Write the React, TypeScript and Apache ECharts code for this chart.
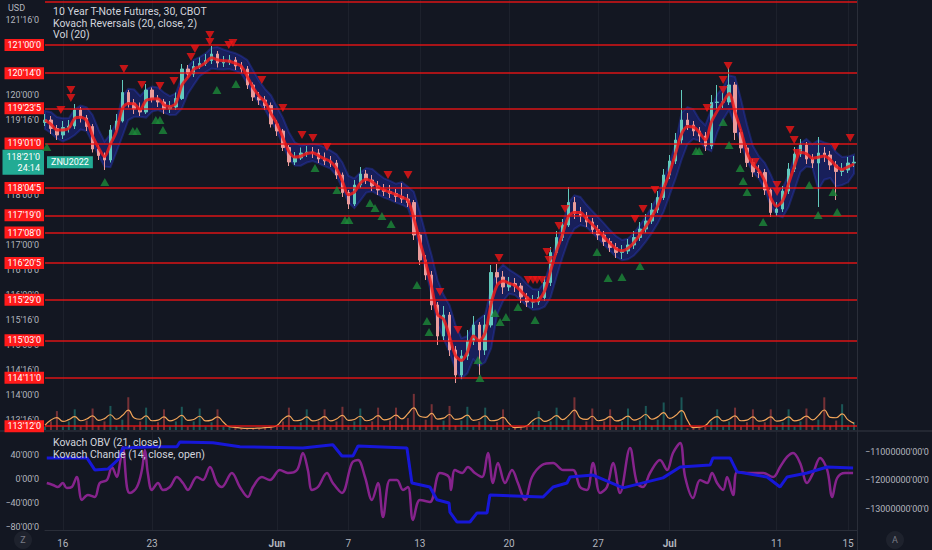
import React, { useEffect, useRef } from 'react';
import * as echarts from 'echarts';

// ---- price bars (3 bars per trading day, first bar on day index -1 = May 13) ----
const FIRST_DAY = -1;
const BARS_PER_DAY = 3;
const firstOpen = 119.45;
const closes = [
  119.50, 119.33, 119.20, 119.35, 119.38, 119.70, 119.54, 119.37, 118.92, 118.79,
  118.70, 119.30, 119.48, 120.05, 119.84, 119.72, 119.66, 120.10, 119.92, 119.86,
  119.72, 119.76, 119.93, 120.52, 120.42, 120.57, 120.63, 120.69, 120.82, 120.64,
  120.66, 120.70, 120.58, 120.52, 120.20, 119.96, 119.90, 119.79, 119.42, 119.28,
  118.95, 118.66, 118.74, 118.84, 118.86, 118.84, 118.72, 118.68, 118.64, 118.40,
  118.05, 117.82, 118.20, 118.42, 118.30, 118.18, 118.10, 118.07, 118.03, 117.97,
  117.92, 117.85, 117.20, 116.70, 116.40, 115.80, 115.18, 115.60, 114.90, 114.40,
  114.78, 115.08, 115.40, 114.90, 115.40, 116.45, 116.36, 116.16, 116.23, 116.18,
  115.96, 115.86, 115.86, 115.95, 116.25, 116.85, 117.15, 117.40, 117.85, 117.63,
  117.58, 117.46, 117.31, 117.20, 117.07, 116.95, 116.85, 116.88, 117.00, 117.15,
  117.32, 117.48, 117.70, 117.95, 118.40, 118.68, 119.10, 119.50, 119.40, 119.28,
  119.18, 118.98, 119.85, 119.86, 119.86, 120.20, 119.25, 118.94, 118.65, 118.46,
  118.45, 118.10, 117.65, 117.72, 118.08, 118.52, 118.82, 119.00, 118.72, 118.64,
  118.84, 118.80, 118.60, 118.47, 118.50, 118.64, 118.65625,
];
const highs = [
  119.62, 119.58, 119.40, 119.48, 119.50, 119.82, 119.76, 119.60, 119.42, 119.00,
  118.85, 119.40, 119.62, 120.30, 120.10, 119.92, 119.85, 120.22, 120.15, 120.00,
  119.92, 119.88, 120.05, 120.62, 120.60, 120.68, 120.75, 120.82, 120.98, 120.88,
  120.78, 120.80, 120.76, 120.66, 120.58, 120.25, 120.06, 119.98, 119.85, 119.50,
  119.32, 119.00, 118.86, 118.95, 118.98, 118.96, 118.92, 118.85, 118.78, 118.70,
  118.45, 118.10, 118.30, 118.56, 118.50, 118.40, 118.28, 118.22, 118.20, 118.12,
  118.24, 118.02, 117.90, 117.26, 116.80, 116.48, 115.86, 115.78, 115.66, 114.98,
  114.90, 115.30, 115.58, 115.46, 115.60, 116.60, 116.62, 116.48, 116.36, 116.34,
  116.24, 116.04, 116.00, 116.08, 116.36, 116.96, 117.28, 117.52, 118.16, 117.96,
  117.76, 117.66, 117.54, 117.40, 117.28, 117.14, 117.04, 117.00, 117.12, 117.28,
  117.46, 117.62, 117.84, 118.08, 118.52, 118.80, 119.24, 120.10, 119.64, 119.48,
  119.36, 119.26, 120.00, 120.20, 120.05, 120.55, 120.26, 119.32, 119.00, 118.72,
  118.60, 118.52, 118.14, 117.86, 118.18, 118.64, 118.96, 119.12, 119.06, 118.82,
  119.16, 118.96, 118.88, 118.68, 118.64, 118.76, 118.78,
];
const lows = [
  119.38, 119.22, 119.10, 119.12, 119.25, 119.32, 119.45, 119.28, 118.85, 118.70,
  118.50, 118.65, 119.25, 119.45, 119.75, 119.62, 119.58, 119.62, 119.85, 119.76,
  119.62, 119.64, 119.70, 119.90, 120.34, 120.36, 120.52, 120.58, 120.62, 120.55,
  120.56, 120.60, 120.50, 120.44, 120.12, 119.88, 119.80, 119.70, 119.35, 119.18,
  118.88, 118.58, 118.60, 118.70, 118.76, 118.74, 118.64, 118.60, 118.56, 118.32,
  117.96, 117.72, 117.78, 118.14, 118.22, 118.08, 118.00, 117.98, 117.94, 117.86,
  117.84, 117.76, 117.10, 116.60, 116.30, 115.70, 115.00, 115.10, 114.78, 114.24,
  114.32, 114.70, 115.00, 114.40, 114.80, 115.35, 116.20, 116.02, 116.08, 116.06,
  115.84, 115.76, 115.74, 115.80, 115.88, 116.18, 116.80, 117.08, 117.36, 117.52,
  117.46, 117.36, 117.22, 117.10, 116.98, 116.86, 116.74, 116.72, 116.82, 116.92,
  117.08, 117.24, 117.42, 117.64, 117.90, 118.32, 118.62, 119.02, 119.30, 119.18,
  119.06, 118.88, 118.92, 119.72, 119.74, 119.80, 119.10, 118.84, 118.56, 118.36,
  118.34, 118.00, 117.56, 117.58, 117.66, 118.02, 118.46, 118.76, 118.62, 118.54,
  117.76, 118.66, 118.50, 117.90, 118.38, 118.44, 118.56,
];
const volumes = [
  4, 10, 22, 4, 10, 24, 4, 11, 25, 5, 10, 28, 5, 12, 38, 4, 10, 26, 4, 9, 24,
  4, 10, 27, 4, 10, 25, 4, 9, 24, 4, 4, 3, 2, 2, 2, 2, 3, 3, 4, 10, 26,
  4, 9, 24, 4, 10, 24, 4, 10, 27, 4, 10, 25, 4, 10, 26, 5, 11, 26, 6, 14, 42,
  5, 12, 30, 5, 11, 28, 5, 11, 27, 4, 10, 26, 4, 9, 24, 2, 3, 3, 4, 9, 22,
  4, 10, 26, 5, 12, 38, 4, 10, 25, 4, 10, 24, 4, 10, 25, 5, 11, 28, 5, 12, 32,
  5, 12, 38, 2, 3, 3, 4, 10, 24, 4, 10, 26, 4, 9, 24, 4, 9, 24, 4, 9, 24,
  4, 10, 25, 5, 12, 38, 5, 11, 30, 4, 9,
];

// ---- horizontal levels ----
const levels = [121.0, 120.4375, 119.734375, 119.03125, 118.140625, 117.59375, 117.25,
  116.640625, 115.90625, 115.09375, 114.34375, 113.375];
const topLevel = 121.875;
const contract = 'ZNU2022';
const countdown = '24:14';

// ---- reversal markers [day, price] ----
const redMarks = [
  [-0.11, 119.70], [0.45, 120.10], [0.45, 119.94], [3.42, 120.52], [4.43, 120.20], [5.44, 120.18],
  [6.22, 120.28], [7.18, 120.76], [7.40, 120.92], [8.24, 121.20], [8.24, 121.06], [9.30, 121.00],
  [9.53, 121.04], [11.15, 120.30], [12.33, 119.74], [13.40, 119.20], [14.01, 119.14], [14.80, 118.96],
  [18.22, 118.40], [19.34, 118.40], [21.13, 116.06], [22.14, 115.30], [24.44, 116.74], [26.07, 116.30],
  [26.35, 116.30], [26.57, 116.30], [26.85, 116.30], [27.13, 116.86], [27.24, 116.70], [27.80, 117.38],
  [28.14, 117.72], [32.06, 117.52], [32.51, 117.72], [33.18, 118.10], [36.10, 119.74], [37.00, 120.30],
  [37.00, 120.10], [37.28, 120.58], [38.79, 118.66], [40.02, 118.20], [40.02, 118.06], [40.75, 119.30],
  [40.98, 119.10], [41.14, 118.84], [43.27, 118.96], [44.12, 119.14],
];
const greenMarks = [
  [-0.90, 118.96], [2.35, 118.26], [3.92, 119.28], [4.15, 119.28], [5.21, 119.50], [5.44, 119.50],
  [5.61, 119.30], [8.63, 120.10], [9.70, 120.22], [14.13, 118.54], [15.36, 118.10], [15.81, 117.50],
  [16.03, 117.50], [17.21, 117.84], [17.49, 117.74], [17.88, 117.58], [18.39, 117.42], [19.84, 116.20],
  [20.40, 115.48], [20.52, 115.26], [23.26, 114.70], [23.37, 114.34], [24.22, 115.64], [24.50, 115.46],
  [24.83, 115.56], [25.50, 115.76], [26.46, 115.50], [29.93, 116.86], [30.55, 116.34], [31.33, 116.36],
  [32.34, 116.58], [35.48, 118.88], [35.65, 118.88], [37.00, 119.46], [37.33, 119.00], [37.95, 118.54],
  [38.12, 118.28], [38.34, 118.06], [39.24, 117.46], [41.82, 118.20], [42.32, 117.60], [43.16, 118.06],
  [43.39, 117.66],
];

// ---- lower pane [day, value] ----
const chande = [
  [-0.90, -6.7], [-0.56, -10], [-0.28, -13.3], [0, -6.7], [0.22, -15], [0.50, -13.3], [0.78, 3.3],
  [1.07, -35], [1.40, -26.7], [1.79, -30], [2.07, -6.7], [2.47, -1.7], [2.75, 20], [3.03, 3.3],
  [3.20, 26.7], [3.36, 53.3], [3.59, -13.3], [3.76, -23.3], [4.15, -13.3], [4.43, 15], [4.60, 48.3],
  [4.76, 10], [4.99, -18.3], [5.33, -6.7], [5.61, -18.3], [6.00, -13.3], [6.39, 3.3], [6.73, -6.7],
  [7.01, -18.3], [7.51, 3.3], [7.85, -1.7], [8.24, 20], [8.63, -6.7], [8.91, -13.3], [9.47, 10],
  [9.92, -13.3], [10.37, -30], [10.65, -13.3], [11.15, 3.3], [11.60, -1.7], [12.16, 15], [12.61, 10],
  [13.12, 15], [13.45, 43.3], [13.73, 15], [13.96, -18.3], [14.29, -13.3], [14.80, 10], [15.13, -6.7],
  [15.64, -23.3], [16.20, 26.7], [16.54, 31.7], [16.93, 3.3], [17.32, -35], [17.66, -6.7], [17.94, -63.3],
  [18.33, -1.7], [18.72, -1.7], [19.06, -18.3], [19.34, -13.3], [19.62, -68.3], [20.01, -35], [20.57, -38.3],
  [21.13, 10], [21.64, 3.3], [21.75, -18.3], [21.97, 15], [22.37, 10], [22.70, 20], [23.09, 10],
  [23.49, 3.3], [23.82, 43.3], [24.10, -6.7], [24.38, 26.7], [24.78, -6.7], [25.17, 15], [25.50, -6.7],
  [25.90, -35], [26.29, 3.3], [26.85, 23.3], [27.47, 26.7], [28.03, 15], [28.59, 15], [28.98, -13.3],
  [29.37, -18.3], [29.71, 26.7], [30.10, -23.3], [30.49, -13.3], [30.83, 26.7], [31.22, -23.3], [31.78, 51.7],
  [32.17, -6.7], [32.51, -13.3], [32.90, 10], [33.46, 31.7], [33.86, 15], [34.19, 43.3], [34.59, 60],
  [34.87, 3.3], [35.31, -31.7], [35.71, -1.7], [36.10, -6.7], [36.38, 10], [36.66, -6.7], [37.00, -18.3],
  [37.22, 3.3], [37.56, -26.7], [37.78, 11.7], [38.34, 10], [39.24, 10], [39.80, 3.3], [40.19, 20],
  [40.58, 36.7], [40.92, 43.3], [41.31, 26.7], [41.70, -6.7], [42.04, 10], [42.43, 35], [42.83, 15],
  [43.11, -30], [43.39, 1.7], [43.83, 10], [44.28, 10],
];
const obv = [
  [-0.90, -11210000], [1.35, -11210000], [1.79, -11630000], [2.52, -11600000], [3.08, -11280000],
  [3.36, -10860000], [5.04, -10820000], [6.39, -10820000], [6.56, -10650000], [8.41, -10680000],
  [9.92, -10820000], [13.45, -10860000], [15.13, -10750000], [15.64, -11140000], [16.26, -11140000],
  [16.54, -10790000], [19.28, -10860000], [19.56, -12090000], [20.57, -12230000], [20.96, -12680000],
  [21.64, -12790000], [21.69, -13110000], [22.09, -13460000], [22.81, -13460000], [23.21, -13140000],
  [23.77, -13140000], [23.93, -12510000], [26.91, -12580000], [27.47, -12230000], [28.25, -12090000],
  [28.42, -11880000], [29.71, -11810000], [31.39, -12260000], [33.63, -11910000], [34.59, -11530000],
  [36.27, -11460000], [36.43, -11210000], [37.39, -11210000], [37.78, -11700000], [39.46, -11880000],
  [40.19, -12230000], [40.58, -11880000], [41.70, -11740000], [42.83, -11530000], [44.28, -11560000],
];

// ---- axis ticks ----
const dayTicks = [0, 5, 12, 16, 20, 25, 30, 34, 40, 44];
const dayLabels = ['16', '23', 'Jun', '7', '13', '20', '27', 'Jul', '11', '15'];
const priceTicks = [113.5, 114, 114.5, 115, 115.5, 116, 116.5, 117, 118, 119.5, 120, 121.5];
const chandeTicks = [-80, -40, 0, 40];
const obvTicks = [-13000000, -12000000, -11000000];

const titleLines = ['10 Year T-Note Futures, 30, CBOT', 'Kovach Reversals (20, close, 2)', 'Vol (20)'];
const lowerTitles = ['Kovach OBV (21, close)', 'Kovach Chande (14, close, open)'];

function fmt32(v: number): string {
  const neg = v < 0;
  const a = Math.abs(v);
  let w = Math.floor(a + 1e-9);
  const r = (a - w) * 32;
  let n = Math.floor(r + 1e-6);
  let f = Math.round((r - n) * 10);
  if (f >= 10) { f = 0; n += 1; }
  if (n >= 32) { n = 0; w += 1; }
  return (neg ? '\u2212' : '') + w + "'" + String(n).padStart(2, '0') + "'" + f;
}

const FONT = 'Roboto, "Noto Sans", sans-serif';
const AXIS_TXT = '#b2b5be';
const TEAL = '#22ab94';

export default function App() {
  const ref = useRef<HTMLDivElement>(null);
  useEffect(() => {
    if (!ref.current) return;
    const chart = echarts.init(ref.current, null, { renderer: 'svg' });

    const xs = closes.map((_, i) => FIRST_DAY + i / BARS_PER_DAY);
    const opens = closes.map((_, i) => (i === 0 ? firstOpen : closes[i - 1]));
    const wavg = (arr: number[], i: number) =>
      0.5 * arr[i] + 0.3 * arr[Math.max(0, i - 1)] + 0.2 * arr[Math.max(0, i - 2)];
    const ma = closes.map((_, i) => wavg(closes, i));
    const upper = highs.map((_, i) => wavg(highs, i) + 0.06);
    const lower = lows.map((_, i) => wavg(lows, i) - 0.06);
    const vma = volumes.map((v, i) =>
      0.25 * volumes[Math.max(0, i - 1)] + 0.5 * v + 0.25 * volumes[Math.min(volumes.length - 1, i + 1)]);
    const last = closes[closes.length - 1];

    const candleData = xs.map((x, i) => [x, opens[i], closes[i], lows[i], highs[i]]);
    const hidden = { color: 'rgba(0,0,0,0)', width: 0 };

    const option: any = {
      animation: false,
      backgroundColor: '#131722',
      textStyle: { fontFamily: FONT },
      grid: [
        { left: 45, right: 75, top: 0, height: 430 },
        { left: 45, right: 75, top: 432, height: 98 },
      ],
      xAxis: [
        {
          type: 'value', gridIndex: 0, min: -1, max: 44.5,
          axisLabel: { show: false }, axisLine: { show: false },
          axisTick: { show: false, customValues: dayTicks },
          splitLine: { show: true, lineStyle: { color: 'rgba(42,46,57,0.45)', width: 1 } },
        },
        {
          type: 'value', gridIndex: 1, min: -1, max: 44.5,
          axisLine: { show: true, onZero: false, lineStyle: { color: '#2a2e39' } },
          axisTick: { show: false, customValues: dayTicks },
          splitLine: { show: true, lineStyle: { color: 'rgba(42,46,57,0.45)', width: 1 } },
          axisLabel: {
            customValues: dayTicks, color: AXIS_TXT, fontSize: 10, margin: 8, fontFamily: FONT,
            formatter: (v: number) => {
              const t = dayLabels[dayTicks.indexOf(v)] ?? '';
              return t === 'Jun' || t === 'Jul' ? '{m|' + t + '}' : t;
            },
            rich: { m: { fontWeight: 'bold', color: AXIS_TXT, fontSize: 10, fontFamily: FONT } },
          },
        },
      ],
      yAxis: [
        {
          type: 'value', gridIndex: 0, position: 'left', min: 113.3, max: 121.9, scale: true,
          axisLine: { show: false }, axisTick: { show: false }, splitLine: { show: false },
          axisLabel: { customValues: priceTicks, formatter: fmt32, color: AXIS_TXT, fontSize: 9, margin: 6, fontFamily: FONT },
        },
        { type: 'value', gridIndex: 0, min: 0, max: 500, show: false },
        {
          type: 'value', gridIndex: 1, position: 'left', min: -85, max: 78.3,
          axisLine: { show: false }, axisTick: { show: false }, splitLine: { show: false },
          axisLabel: { customValues: chandeTicks, formatter: fmt32, color: AXIS_TXT, fontSize: 9, margin: 6, fontFamily: FONT },
        },
        {
          type: 'value', gridIndex: 1, position: 'right', min: -13740000, max: -10300000,
          axisLine: { show: false }, axisTick: { show: false }, splitLine: { show: false },
          axisLabel: { customValues: obvTicks, formatter: fmt32, color: AXIS_TXT, fontSize: 9, margin: 8, fontFamily: FONT },
        },
      ],
      series: [
        {
          type: 'bar', name: 'Vol', xAxisIndex: 0, yAxisIndex: 1, barWidth: 2, silent: true, z: 1,
          data: xs.map((x, i) => ({
            value: [x, volumes[i]],
            itemStyle: { color: closes[i] >= opens[i] ? 'rgba(38,166,154,0.45)' : 'rgba(239,83,80,0.45)' },
          })),
        },
        {
          type: 'line', name: 'VolMA', xAxisIndex: 0, yAxisIndex: 1, symbol: 'none', smooth: 0.5, silent: true, z: 2,
          lineStyle: { color: '#f2a55a', width: 1.2 },
          data: xs.map((x, i) => [x, vma[i]]),
        },
        {
          type: 'custom', name: 'band', xAxisIndex: 0, yAxisIndex: 0, silent: true, z: 2,
          data: [[xs[0], lower[0]]],
          renderItem: (_params: any, api: any) => {
            const top = xs.map((x, i) => api.coord([x, upper[i]]));
            const bot = xs.map((x, i) => api.coord([x, lower[i]])).reverse();
            return {
              type: 'polygon',
              shape: { points: top.concat(bot) },
              style: { fill: 'rgba(30,44,170,0.42)', stroke: 'rgba(45,62,210,0.35)', lineWidth: 2 },
            };
          },
        },
        {
          type: 'candlestick', name: 'ZN', xAxisIndex: 0, yAxisIndex: 0, barWidth: 3, z: 3,
          encode: { x: 0, y: [1, 2, 3, 4] },
          itemStyle: { color: '#62cabd', color0: '#ea9b9b', borderColor: '#62cabd', borderColor0: '#ea9b9b', borderWidth: 1 },
          data: candleData,
          markLine: {
            symbol: ['none', 'none'], silent: true, precision: 6, animation: false,
            lineStyle: { color: 'rgba(240,20,20,0.9)', width: 1.5, type: 'solid' },
            label: {
              show: true, position: 'start', formatter: '{b}', color: '#ffffff', backgroundColor: '#ff1a1a',
              padding: [2, 3, 1, 3], fontSize: 9, distance: 1, fontFamily: FONT,
            },
            data: [
              ...levels.map((v) => ({ yAxis: v, name: fmt32(v) })),
              { yAxis: topLevel, name: fmt32(topLevel), label: { show: false } },
              {
                yAxis: last, name: fmt32(last) + '\n' + countdown, lineStyle: hidden,
                label: { backgroundColor: TEAL, padding: [2, 4, 1, 4], lineHeight: 11 },
              },
              {
                yAxis: last, name: contract, lineStyle: hidden,
                label: { position: 'insideStart', backgroundColor: TEAL, padding: [2, 4, 1, 4], distance: 2 },
              },
            ],
          },
        },
        {
          type: 'line', name: 'Kovach', xAxisIndex: 0, yAxisIndex: 0, symbol: 'none', smooth: 0.3, silent: true, z: 4,
          lineStyle: { color: 'rgba(238,28,28,0.85)', width: 3 },
          data: xs.map((x, i) => [x, ma[i]]),
        },
        {
          type: 'scatter', name: 'down', xAxisIndex: 0, yAxisIndex: 0, symbol: 'triangle', symbolRotate: 180,
          symbolSize: [9, 8], silent: true, z: 5, itemStyle: { color: '#f01515' }, data: redMarks,
        },
        {
          type: 'scatter', name: 'up', xAxisIndex: 0, yAxisIndex: 0, symbol: 'triangle',
          symbolSize: [9, 8], silent: true, z: 5, itemStyle: { color: '#1d8a3a' }, data: greenMarks,
        },
        {
          type: 'line', name: 'Chande', xAxisIndex: 1, yAxisIndex: 2, symbol: 'none', smooth: 0.35, silent: true, z: 3,
          lineStyle: { color: '#86238c', width: 2.5 },
          data: chande,
        },
        {
          type: 'line', name: 'OBV', xAxisIndex: 1, yAxisIndex: 3, symbol: 'none', silent: true, z: 4,
          lineStyle: { color: '#1717d8', width: 3 },
          data: obv,
        },
      ],
      graphic: [
        { type: 'line', z: 0, shape: { x1: 0, y1: 431, x2: 932, y2: 431 }, style: { stroke: '#2a2e39', lineWidth: 1.5 } },
        { type: 'line', z: 0, shape: { x1: 857.5, y1: 0, x2: 857.5, y2: 550 }, style: { stroke: '#2a2e39', lineWidth: 1 } },
        { type: 'text', x: 8, y: 3, z: 10, style: { text: 'USD', fill: AXIS_TXT, fontSize: 9, fontFamily: FONT } },
        ...titleLines.map((t, k) => ({
          type: 'text', x: 53, y: 6 + k * 11.5, z: 10,
          style: { text: t, fill: '#d1d4dc', fontSize: 10.5, fontFamily: FONT },
        })),
        ...lowerTitles.map((t, k) => ({
          type: 'text', x: 53, y: 437 + k * 12, z: 10,
          style: { text: t, fill: '#d1d4dc', fontSize: 10.5, fontFamily: FONT },
        })),
        { type: 'circle', z: 10, shape: { cx: 23, cy: 540, r: 9 }, style: { fill: '#1e222d' } },
        { type: 'text', x: 23, y: 540, z: 11, style: { text: 'Z', fill: '#787b86', fontSize: 9, fontFamily: FONT, align: 'center', verticalAlign: 'middle' } },
        { type: 'circle', z: 10, shape: { cx: 895, cy: 540, r: 9 }, style: { fill: '#1e222d' } },
        { type: 'text', x: 895, y: 540, z: 11, style: { text: 'A', fill: '#787b86', fontSize: 9, fontFamily: FONT, align: 'center', verticalAlign: 'middle' } },
      ],
    };
    chart.setOption(option);
    return () => chart.dispose();
  }, []);
  return (
    <div
      ref={ref}
      style={{ position: 'fixed', left: 0, top: 0, width: 932, height: 550, background: '#131722' }}
    />
  );
}
